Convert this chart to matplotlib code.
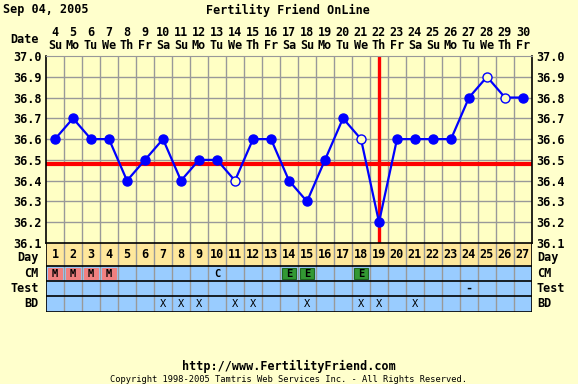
import matplotlib.pyplot as plt
from matplotlib.patches import Rectangle
from matplotlib.transforms import blended_transform_factory as blend

# данные
cycle_days = list(range(1, 28))
dates = list(range(4, 31))
weekdays = ['Su', 'Mo', 'Tu', 'We', 'Th', 'Fr', 'Sa'] * 4
weekdays = weekdays[:27]
temps = [36.6, 36.7, 36.6, 36.6, 36.4, 36.5, 36.6, 36.4, 36.5, 36.5,
         36.4, 36.6, 36.6, 36.4, 36.3, 36.5, 36.7, 36.6, 36.2, 36.6,
         36.6, 36.6, 36.6, 36.8, 36.9, 36.8, 36.8]
open_days = [11, 18, 25, 26]  # незаполненные точки
coverline = 36.48
ovulation_day = 19
cm_marks = {1: 'M', 2: 'M', 3: 'M', 4: 'M', 10: 'C', 14: 'E', 15: 'E', 18: 'E'}
test_marks = {24: '-'}
bd_days = [7, 8, 9, 11, 12, 15, 18, 19, 21]
yticks = [36.1, 36.2, 36.3, 36.4, 36.5, 36.6, 36.7, 36.8, 36.9, 37.0]

BG = '#FFFFCC'
PLOT_BG = '#FFFFC4'
DAY_BG = '#FFE89C'
ROW_BG = '#99CCFF'
GRID = '#999999'
FONT = dict(family='DejaVu Sans Mono', weight='bold', fontsize=8.5)

W, H = 578, 384
fig = plt.figure(figsize=(W / 100, H / 100), dpi=100, facecolor=BG)

left, right = 46, 532
top, mid, bot = 56, 243, 311.5

# температурный график
ax = fig.add_axes([left / W, 1 - mid / H, (right - left) / W, (mid - top) / H])
ax.set_facecolor(PLOT_BG)
ax.set_xlim(0.5, 27.5)
ax.set_ylim(36.1, 37.0)
for d in cycle_days[:-1]:
    ax.axvline(d + 0.5, color=GRID, lw=1.0, zorder=1)
for t in yticks[1:-1]:
    ax.axhline(t, color=GRID, lw=1.0, zorder=1)
for s in ['left', 'right', 'bottom']:
    ax.spines[s].set_color('black')
    ax.spines[s].set_linewidth(1.2)
ax.spines['top'].set_color(GRID)
ax.set_xticks([])
ax.set_yticks(yticks)
ax.set_yticklabels([f'{t:.1f}' for t in yticks], **FONT)
ax.tick_params(axis='y', length=0, pad=3, labelright=True)

ax.axhline(coverline, color='red', lw=3, zorder=2)
ax.axvline(ovulation_day, color='red', lw=2.4, zorder=2)

ax.plot(cycle_days, temps, color='blue', lw=1.6, zorder=3)
filled = [(d, t) for d, t in zip(cycle_days, temps) if d not in open_days]
hollow = [(d, t) for d, t in zip(cycle_days, temps) if d in open_days]
ax.plot([p[0] for p in filled], [p[1] for p in filled], 'o', color='blue',
        ms=6.5, zorder=4)
ax.plot([p[0] for p in hollow], [p[1] for p in hollow], 'o', mfc=PLOT_BG,
        mec='blue', mew=1.0, ms=6.5, zorder=4)

# даты сверху
tr = blend(ax.transData, ax.transAxes)
for d, dt, wd in zip(cycle_days, dates, weekdays):
    ax.text(d, 1.125, str(dt), transform=tr, ha='center', va='center', **FONT)
    ax.text(d, 1.055, wd, transform=tr, ha='center', va='center', **FONT)
ax.text(-0.015, 1.09, 'Date', transform=ax.transAxes, ha='right', va='center', **FONT)

# таблица снизу
rows = ['Day', 'CM', 'Test', 'BD']
row_h = [23, 15, 15, 15.5]
edges = [0]
for h in row_h:
    edges.append(edges[-1] + h)
tb = fig.add_axes([left / W, 1 - bot / H, (right - left) / W, (bot - mid) / H])
tb.set_xlim(0.5, 27.5)
tb.set_ylim(edges[-1], 0)
tb.axis('off')
tb.axhspan(edges[0], edges[1], color=DAY_BG, zorder=0)
tb.axhspan(edges[1], edges[-1], color=ROW_BG, zorder=0)
for d in cycle_days[:-1]:
    tb.axvline(d + 0.5, color=GRID, lw=1.0, zorder=1)
for e in edges:
    tb.axhline(e, color='black', lw=1.2, zorder=3)
tb.axvline(0.5, color='black', lw=1.2, zorder=3)
tb.axvline(27.5, color='black', lw=1.2, zorder=3)

def row_mid(i):
    return (edges[i] + edges[i + 1]) / 2

tr2 = blend(tb.transAxes, tb.transData)
for i, name in enumerate(rows):
    yc = row_mid(i) + (2.5 if i == 0 else 0)
    tb.text(-0.015, yc, name, transform=tr2, ha='right', va='center', **FONT)
    tb.text(1.01, yc, name, transform=tr2, ha='left', va='center', **FONT)

for d in cycle_days:
    tb.text(d, row_mid(0), str(d), ha='center', va='center', **FONT)

box_colors = {'M': ('#F08080', '#F08080'), 'E': ('#339933', '#1F661F')}
for d, m in cm_marks.items():
    if m in box_colors:
        fc, ec = box_colors[m]
        tb.add_patch(Rectangle((d - 0.39, edges[1] + 1.7), 0.78, 11.6,
                               facecolor=fc, edgecolor=ec, lw=0.8, zorder=2))
    tb.text(d, row_mid(1) + 0.3, m, ha='center', va='center', zorder=4,
            family='DejaVu Sans Mono', weight='bold', fontsize=7.5)
for d, m in test_marks.items():
    tb.text(d, row_mid(2), m, ha='center', va='center', zorder=4, **FONT)
for d in bd_days:
    tb.text(d, row_mid(3), 'X', ha='center', va='center', zorder=4,
            family='DejaVu Sans Mono', fontsize=7.5)

# подписи
fig.text(3 / W, 1 - 10 / H, 'Sep 04, 2005', ha='left', va='center', **FONT)
fig.text(288 / W, 1 - 10 / H, 'Fertility Friend OnLine', ha='center', va='center', **FONT)
fig.text(289 / W, 1 - 366 / H, 'http://www.FertilityFriend.com', ha='center', va='center', **FONT)
fig.text(289 / W, 1 - 380 / H,
         'Copyright 1998-2005 Tamtris Web Services Inc. - All Rights Reserved.',
         ha='center', va='center', family='DejaVu Sans Mono', fontsize=6.3)

fig.savefig('out.png', dpi=100, facecolor=BG)
